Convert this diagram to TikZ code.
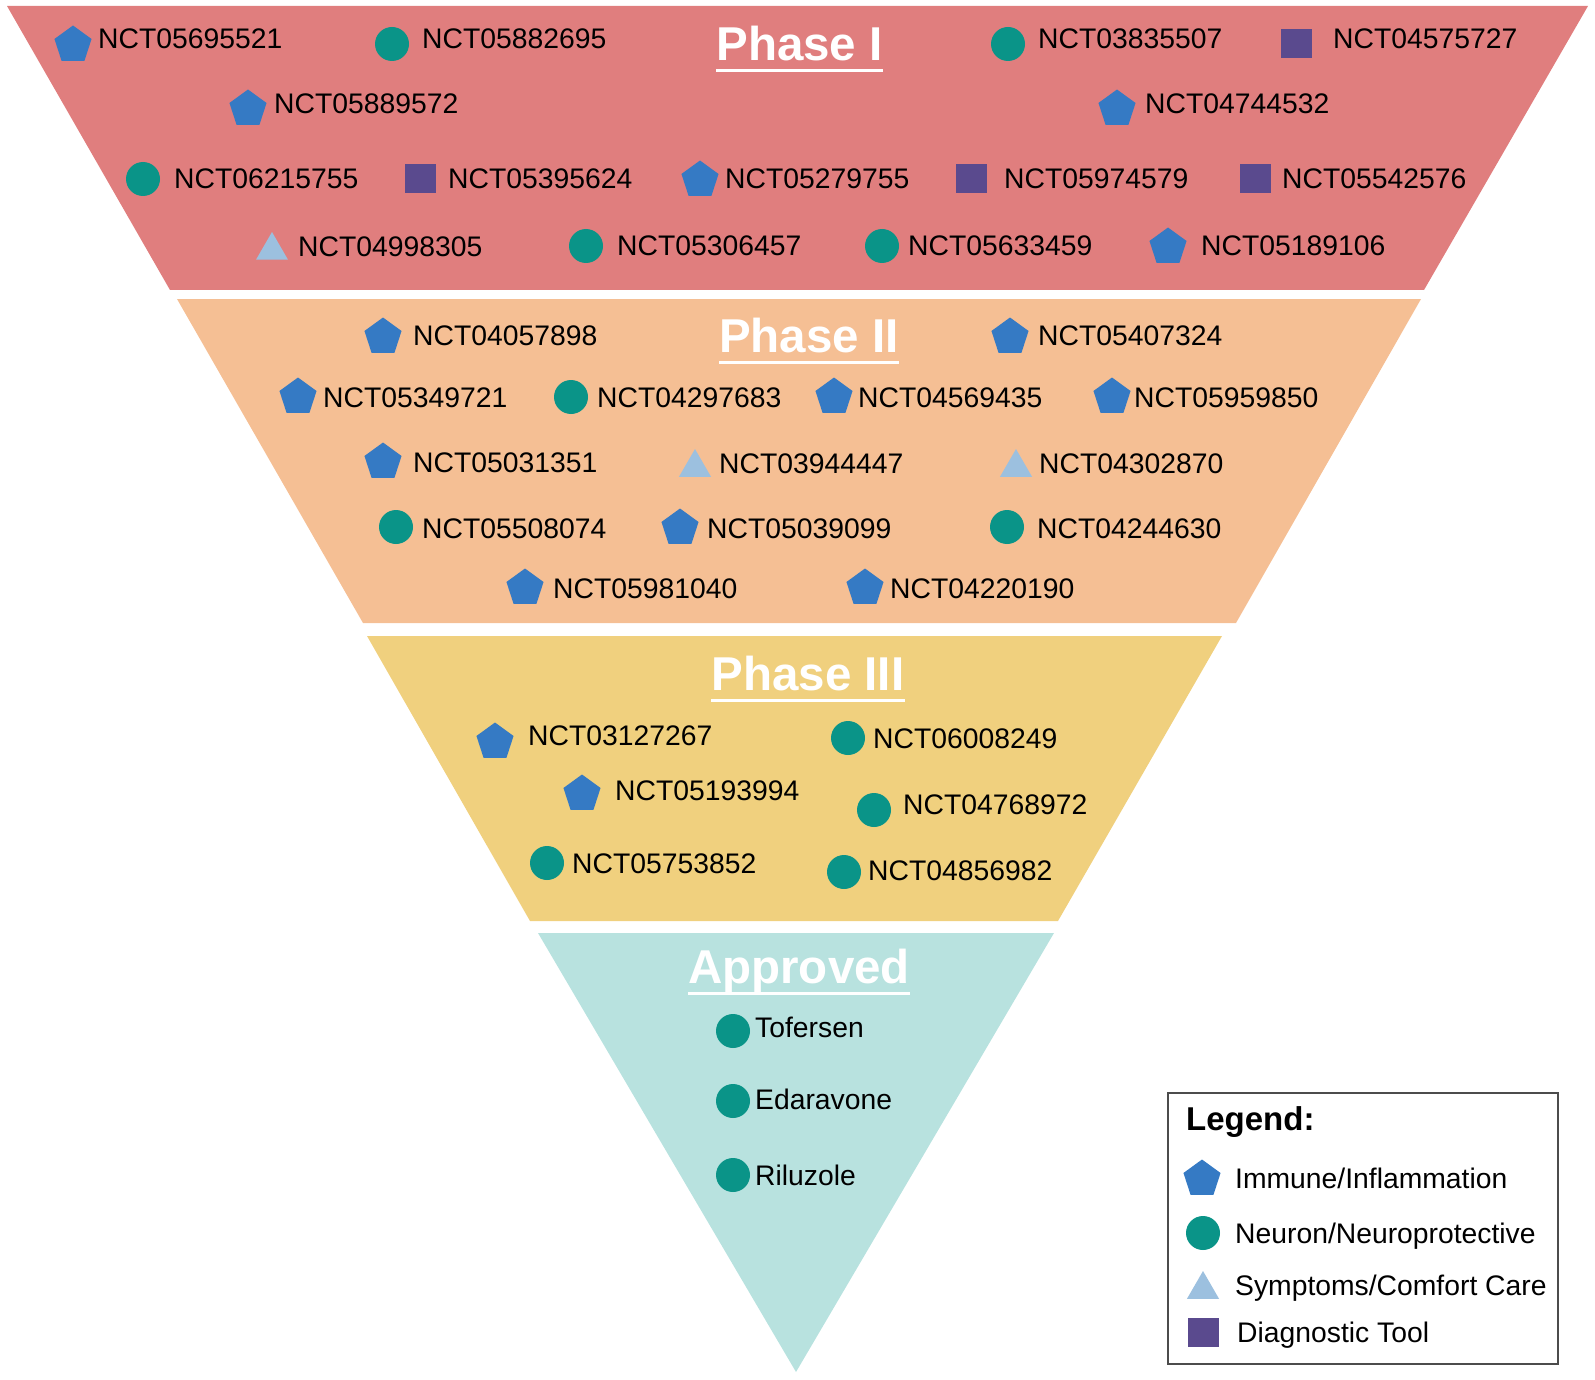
\documentclass[tikz,border=0pt]{standalone}
\usepackage{fontspec}
\setmainfont{Liberation Sans}
\usepackage{xcolor}
\usepackage{tikz}
\usetikzlibrary{shapes.geometric}
\definecolor{phaseone}{HTML}{E07E7E}
\definecolor{phasetwo}{HTML}{F5BF94}
\definecolor{phasethree}{HTML}{F0D07E}
\definecolor{approvedc}{HTML}{B8E2DF}
\definecolor{immblue}{HTML}{357AC4}
\definecolor{neuroteal}{HTML}{0A9488}
\definecolor{sympblue}{HTML}{9CC0DF}
\definecolor{diagpurple}{HTML}{5A4A8E}
\tikzstyle{immune} = [regular polygon, regular polygon sides=5, minimum size=39pt, inner sep=0pt, fill=immblue, yshift=-2pt]
\tikzstyle{neuro} = [circle, minimum size=34pt, inner sep=0pt, fill=neuroteal]
\tikzstyle{symp} = [regular polygon, regular polygon sides=3, minimum size=37pt, inner sep=0pt, fill=sympblue, yshift=-4.5pt]
\tikzstyle{diag} = [rectangle, minimum width=31pt, minimum height=29pt, inner sep=0pt, fill=diagpurple]
\tikzstyle{trial} = [anchor=west, inner sep=0pt, text height=20pt, text depth=0pt, font=\fontsize{28.3}{30}\selectfont]
\tikzstyle{phase} = [anchor=base, inner sep=0pt, text=white, font=\bfseries\fontsize{47.5}{50}\selectfont]
\tikzstyle{uline} = [white, line width=3pt]

\begin{document}
\begin{tikzpicture}[x=1pt, y=-1pt]
        \useasboundingbox (0,0) rectangle (1595,1380);

        % Bands
        \fill [phaseone] (7,6) -- (1588,6) -- (1424,290) -- (170,290) -- cycle;
        \fill [phasetwo] (177,299) -- (1421,299) -- (1236,623) -- (363,623) -- cycle;
        \fill [phasethree] (367,636) -- (1222,636) -- (1058,921) -- (530,921) -- cycle;
        \fill [approvedc] (538,933) -- (1054,933) -- (796,1372) -- cycle;

        % Titles
        \node (ph1) [phase] at (799.5,61) {Phase I};
        \node (ph2) [phase] at (809,352) {Phase II};
        \node (ph3) [phase] at (808,690) {Phase III};
        \node (appr) [phase] at (799,983) {Approved};
        \draw [uline] ([yshift=-10pt]ph1.base west) -- ([yshift=-10pt]ph1.base east);
        \draw [uline] ([yshift=-10pt]ph2.base west) -- ([yshift=-10pt]ph2.base east);
        \draw [uline] ([yshift=-10pt]ph3.base west) -- ([yshift=-10pt]ph3.base east);
        \draw [uline] ([yshift=-10pt]appr.base west) -- ([yshift=-10pt]appr.base east);

        % Phase I
        \node (a1) [immune] at (73,43) {};
        \node (a1t) [trial] at (98,39) {NCT05695521};
        \node (a2) [neuro] at (392,44) {};
        \node (a2t) [trial] at (422,39) {NCT05882695};
        \node (a3) [neuro] at (1008,44) {};
        \node (a3t) [trial] at (1038,39) {NCT03835507};
        \node (a4) [diag] at (1296,44) {};
        \node (a4t) [trial] at (1333,39) {NCT04575727};
        \node (a5) [immune] at (248,107) {};
        \node (a5t) [trial] at (274,104) {NCT05889572};
        \node (a6) [immune] at (1117,107) {};
        \node (a6t) [trial] at (1145,104) {NCT04744532};
        \node (a7) [neuro] at (143,179) {};
        \node (a7t) [trial] at (174,179) {NCT06215755};
        \node (a8) [diag] at (420,179) {};
        \node (a8t) [trial] at (448,179) {NCT05395624};
        \node (a9) [immune] at (700,178) {};
        \node (a9t) [trial] at (725,179) {NCT05279755};
        \node (a10) [diag] at (971,179) {};
        \node (a10t) [trial] at (1004,179) {NCT05974579};
        \node (a11) [diag] at (1255,179) {};
        \node (a11t) [trial] at (1282,179) {NCT05542576};
        \node (a12) [symp] at (272,246) {};
        \node (a12t) [trial] at (298,247) {NCT04998305};
        \node (a13) [neuro] at (586,246) {};
        \node (a13t) [trial] at (617,246) {NCT05306457};
        \node (a14) [neuro] at (882,246) {};
        \node (a14t) [trial] at (908,246) {NCT05633459};
        \node (a15) [immune] at (1168,245) {};
        \node (a15t) [trial] at (1201,246) {NCT05189106};

        % Phase II
        \node (b1) [immune] at (383,335) {};
        \node (b1t) [trial] at (413,335) {NCT04057898};
        \node (b2) [immune] at (1010,335) {};
        \node (b2t) [trial] at (1038,335) {NCT05407324};
        \node (b3) [immune] at (298,395) {};
        \node (b3t) [trial] at (323,397) {NCT05349721};
        \node (b4) [neuro] at (571,397) {};
        \node (b4t) [trial] at (597,397) {NCT04297683};
        \node (b5) [immune] at (834,395) {};
        \node (b5t) [trial] at (858,397) {NCT04569435};
        \node (b6) [immune] at (1112,395) {};
        \node (b6t) [trial] at (1134,397) {NCT05959850};
        \node (b7) [immune] at (383,460) {};
        \node (b7t) [trial] at (413,462) {NCT05031351};
        \node (b8) [symp] at (695,463) {};
        \node (b8t) [trial] at (719,463) {NCT03944447};
        \node (b9) [symp] at (1016,463) {};
        \node (b9t) [trial] at (1039,463) {NCT04302870};
        \node (b10) [neuro] at (396,527) {};
        \node (b10t) [trial] at (422,528) {NCT05508074};
        \node (b11) [immune] at (680,526) {};
        \node (b11t) [trial] at (707,528) {NCT05039099};
        \node (b12) [neuro] at (1007,527) {};
        \node (b12t) [trial] at (1037,528) {NCT04244630};
        \node (b13) [immune] at (525,586) {};
        \node (b13t) [trial] at (553,588) {NCT05981040};
        \node (b14) [immune] at (865,586) {};
        \node (b14t) [trial] at (890,588) {NCT04220190};

        % Phase III
        \node (c1) [immune] at (495,740) {};
        \node (c1t) [trial] at (528,735) {NCT03127267};
        \node (c2) [immune] at (582,792) {};
        \node (c2t) [trial] at (615,790) {NCT05193994};
        \node (c3) [neuro] at (547,863) {};
        \node (c3t) [trial] at (572,863) {NCT05753852};
        \node (c4) [neuro] at (848,738) {};
        \node (c4t) [trial] at (873,738) {NCT06008249};
        \node (c5) [neuro] at (874,810) {};
        \node (c5t) [trial] at (903,804) {NCT04768972};
        \node (c6) [neuro] at (844,872) {};
        \node (c6t) [trial] at (868,870) {NCT04856982};

        % Approved
        \node (d1) [neuro] at (733,1031) {};
        \node (d1t) [trial] at (755,1027) {Tofersen};
        \node (d2) [neuro] at (733,1101) {};
        \node (d2t) [trial] at (755,1099) {Edaravone};
        \node (d3) [neuro] at (733,1175) {};
        \node (d3t) [trial] at (755,1175) {Riluzole};

        % Legend
        \node (legendbox) [draw=black!70, line width=1.5pt, minimum width=390pt, minimum height=271pt, anchor=north west] at (1167,1092) {};
        \node (legendtitle) [anchor=west, inner sep=0pt, font=\bfseries\fontsize{33}{35}\selectfont] at (1186,1122) {Legend:};
        \node (l1) [immune] at (1202,1177) {};
        \node (l1t) [trial] at (1235,1178) {Immune/Inflammation};
        \node (l2) [neuro] at (1203,1233) {};
        \node (l2t) [trial] at (1235,1233) {Neuron/Neuroprotective};
        \node (l3) [symp] at (1203,1285) {};
        \node (l3t) [trial] at (1235,1285) {Symptoms/Comfort Care};
        \node (l4) [diag] at (1203,1332) {};
        \node (l4t) [trial] at (1237,1332) {Diagnostic Tool};
    \end{tikzpicture}
\end{document}
